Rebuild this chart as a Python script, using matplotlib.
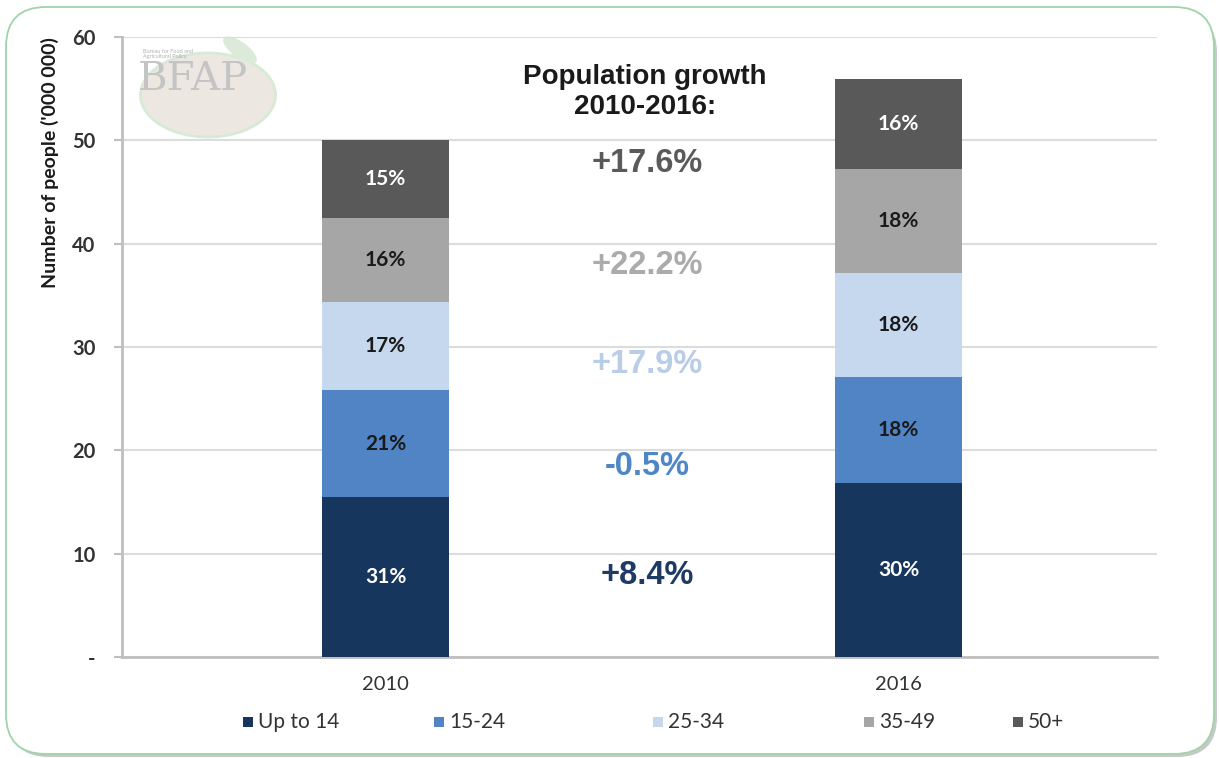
import matplotlib as mpl
import matplotlib.pyplot as plt
from matplotlib.patches import FancyBboxPatch, Rectangle, Ellipse
import numpy as np

mpl.rcParams['font.family'] = 'Lato'

years = ['2010', '2016']
groups = ['Up to 14', '15-24', '25-34', '35-49', '50+']
# millions of people, per age group, per year
pop_2010 = [15.5, 10.3, 8.6, 8.1, 7.5]
pop_2016 = [16.8, 10.3, 10.1, 10.0, 8.7]
growth = [8.4, -0.5, 17.9, 22.2, 17.6]
yticks = [0, 10, 20, 30, 40, 50, 60]
ytick_labels = ['-', '10', '20', '30', '40', '50', '60']

colors = ['#17365d', '#5084c4', '#c5d8ee', '#a6a6a6', '#595959']
text_colors = ['white', '#1a1a1a', '#1a1a1a', '#1a1a1a', 'white']
growth_colors = ['#1f3a64', '#4f86c6', '#b9cde6', '#ababab', '#5a5a5a']
growth_y = [7.9, 18.4, 28.3, 37.9, 47.8]

W, H = 1219, 758
fig = plt.figure(figsize=(W / 100, H / 100), dpi=100)

# outer frame with shadow
px = fig.dpi_scale_trans
shadow = FancyBboxPatch((0.09, 0.01), 12.08, 7.44, boxstyle='round,pad=0,rounding_size=0.4',
                        transform=px, facecolor='#c8c8c8', edgecolor='none', zorder=0)
frame = FancyBboxPatch((0.06, 0.04), 12.08, 7.47, boxstyle='round,pad=0,rounding_size=0.4',
                       transform=px, facecolor='white', edgecolor='#9fd4a9', lw=1.3, zorder=0)
fig.patches.extend([shadow, frame])

ax = fig.add_axes([122 / W, 1 - 657 / H, 1035 / W, 620 / H])
ax.set_zorder(2)
ax.patch.set_alpha(0)

x = np.arange(len(years))
data = np.array([pop_2010, pop_2016]).T
bottom = np.zeros(len(years))
totals = data.sum(axis=0)
for i, g in enumerate(groups):
    ax.bar(x, data[i], 0.248, bottom=bottom, color=colors[i], label=g, zorder=3)
    for j in range(len(years)):
        share = round(data[i][j] / totals[j] * 100)
        ax.text(x[j], bottom[j] + data[i][j] / 2, '%d%%' % share, ha='center', va='center',
                color=text_colors[i], fontsize=15, fontweight='bold', zorder=4)
    bottom += data[i]

ax.set_xlim(-0.514, 1.504)
ax.set_ylim(0, 60)
ax.set_xticks(x)
ax.set_xticklabels(years, fontsize=14.5, color='#333333')
ax.set_yticks(yticks)
ax.set_yticklabels(ytick_labels, fontsize=14.5, fontweight='bold', color='#333333')
ax.tick_params(axis='x', length=0, pad=14)
ax.tick_params(axis='y', length=6, width=1.5, color='#bfbfbf', pad=13)
ax.grid(axis='y', color='#dcdcdc', lw=1.5, zorder=0)
for s in ['top', 'right']:
    ax.spines[s].set_visible(False)
ax.spines['left'].set_color('#bfbfbf')
ax.spines['left'].set_linewidth(2)
ax.spines['bottom'].set_color('#bfbfbf')
ax.spines['bottom'].set_linewidth(2)

# growth annotations
ax.text(0.505, 54.65, 'Population growth\n2010-2016:', ha='center', va='center', fontsize=20,
        fontweight='bold', family='Liberation Sans', color='#1a1a1a', linespacing=1.2, zorder=5)
for g, c, yy in zip(growth, growth_colors, growth_y):
    ax.text(0.51, yy, '%+.1f%%' % g, ha='center', va='center', fontsize=23.5,
            fontweight='bold', family='Liberation Sans', color=c, zorder=5)

fig.text(50 / W, 1 - 37 / H, "Number of people ('000 000)", rotation=90, ha='center', va='top',
         fontsize=14, fontweight='bold', color='#1a1a1a')

# legend
leg_x = [243, 434, 653, 864, 1013]
for gx, g, c in zip(leg_x, groups, colors):
    fig.patches.append(Rectangle((gx / W, 1 - 727 / H), 10 / W, 10 / H, transform=fig.transFigure,
                                 facecolor=c, edgecolor='none', zorder=3))
    fig.text((gx + 15) / W, 1 - 722 / H, g, ha='left', va='center', fontsize=15, color='#333333')

# faded BFAP logo
logo = [
    Ellipse((208 / W, 1 - 95 / H), 135 / W, 84 / H, transform=fig.transFigure,
            facecolor='#ece8e1', edgecolor='#d6ead5', lw=2, zorder=1),
    Ellipse((240 / W, 1 - 50 / H), 20 / W, 32 / H, angle=35, transform=fig.transFigure,
            facecolor='#dcebd9', edgecolor='none', zorder=1),
]
fig.patches.extend(logo)
fig.text(193 / W, 1 - 80 / H, 'BFAP', ha='center', va='center', fontsize=29, family='DejaVu Serif',
         color='#c4c4c4', zorder=1)
fig.text(143 / W, 1 - 54 / H, 'Bureau for Food and\nAgricultural Policy', ha='left', va='center',
         fontsize=4, color='#b0b0b0', zorder=1)

fig.savefig('out.png', dpi=100)
